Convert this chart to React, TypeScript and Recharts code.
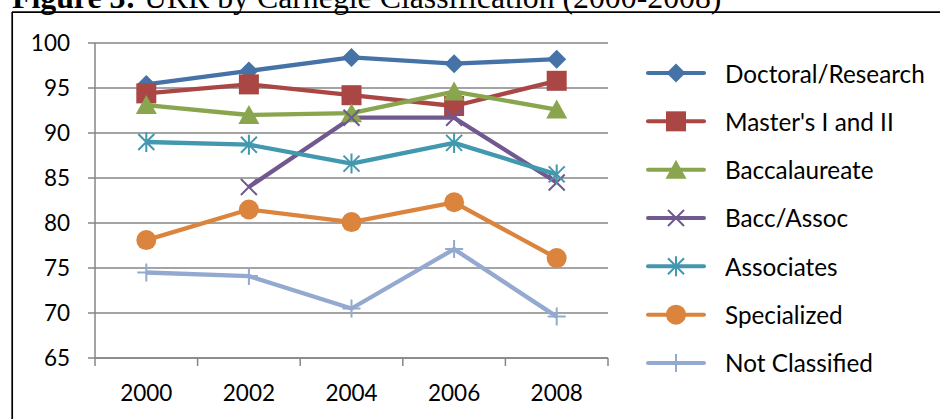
import React from "react";
import { LineChart, Line, XAxis, YAxis, CartesianGrid, Legend } from "recharts";

const years = ["2000", "2002", "2004", "2006", "2008"];
const doctoral = [95.4, 96.9, 98.4, 97.7, 98.2];
const masters = [94.4, 95.4, 94.2, 93.0, 95.8];
const baccalaureate = [93.1, 92.0, 92.2, 94.6, 92.6];
const baccAssoc = [null, 84.0, 91.7, 91.7, 84.5];
const associates = [89.0, 88.7, 86.6, 88.9, 85.4];
const specialized = [78.1, 81.5, 80.1, 82.3, 76.1];
const notClassified = [74.5, 74.1, 70.5, 77.1, 69.6];
const yTicks = [65, 70, 75, 80, 85, 90, 95, 100];

const series = [
  { key: "doctoral", name: "Doctoral/Research", values: doctoral, color: "#4572A7", marker: "diamond" },
  { key: "masters", name: "Master's I and II", values: masters, color: "#AA4643", marker: "square" },
  { key: "bacc", name: "Baccalaureate", values: baccalaureate, color: "#89A54E", marker: "triangle" },
  { key: "baccAssoc", name: "Bacc/Assoc", values: baccAssoc, color: "#71588F", marker: "x" },
  { key: "associates", name: "Associates", values: associates, color: "#4198AF", marker: "star" },
  { key: "specialized", name: "Specialized", values: specialized, color: "#DB843D", marker: "circle" },
  { key: "notClassified", name: "Not Classified", values: notClassified, color: "#93A9CF", marker: "plus" },
];

const data = years.map((year, i) => {
  const row: Record<string, any> = { year };
  series.forEach((s) => (row[s.key] = s.values[i]));
  return row;
});

const W = 940;
const H = 419;
const MARGIN = { top: 43, right: 332, left: 0, bottom: 0 };
const Y_AXIS_W = 95;
const PLOT_W = W - MARGIN.right - Y_AXIS_W;
const HALF_BAND = PLOT_W / years.length / 2;
const GRID = "#868686";
const FONT = "Lato, sans-serif";

function Marker({ kind, cx, cy, color }: { kind: string; cx: number; cy: number; color: string }) {
  switch (kind) {
    case "diamond":
      return <path d={`M${cx},${cy - 9.5}L${cx + 9.5},${cy}L${cx},${cy + 9.5}L${cx - 9.5},${cy}Z`} fill={color} />;
    case "square":
      return <rect x={cx - 10} y={cy - 10} width={20} height={20} fill={color} />;
    case "triangle":
      return <path d={`M${cx},${cy - 10}L${cx + 10.5},${cy + 9}L${cx - 10.5},${cy + 9}Z`} fill={color} />;
    case "x":
      return (
        <path d={`M${cx - 8},${cy - 8}L${cx + 8},${cy + 8}M${cx + 8},${cy - 8}L${cx - 8},${cy + 8}`} stroke={color} strokeWidth={2} />
      );
    case "star":
      return (
        <path
          d={`M${cx - 8},${cy - 8}L${cx + 8},${cy + 8}M${cx + 8},${cy - 8}L${cx - 8},${cy + 8}M${cx},${cy - 10}L${cx},${cy + 10}`}
          stroke={color}
          strokeWidth={2}
        />
      );
    case "circle":
      return <circle cx={cx} cy={cy} r={10} fill={color} />;
    case "plus":
      return <path d={`M${cx - 9},${cy}L${cx + 9},${cy}M${cx},${cy - 9}L${cx},${cy + 9}`} stroke={color} strokeWidth={2} />;
    default:
      return null;
  }
}

function XTick(props: any) {
  const { x, y, payload, index } = props;
  const last = index === years.length - 1;
  return (
    <g>
      <line x1={x - HALF_BAND} x2={x - HALF_BAND} y1={y} y2={y + 8} stroke={GRID} strokeWidth={1.5} />
      {last && <line x1={x + HALF_BAND} x2={x + HALF_BAND} y1={y} y2={y + 8} stroke={GRID} strokeWidth={1.5} />}
      <text x={x} y={y + 27} dy="0.71em" textAnchor="middle" fill="#000" fontSize={22.5} fontFamily={FONT}>
        {payload.value}
      </text>
    </g>
  );
}

function LegendBox() {
  return (
    <svg width={300} height={340}>
      {series.map((s, i) => {
        const cy = 20 + i * 48.33;
        return (
          <g key={s.key}>
            <line x1={8} x2={64} y1={cy} y2={cy} stroke={s.color} strokeWidth={4} strokeLinecap="round" />
            <Marker kind={s.marker} cx={36} cy={cy} color={s.color} />
            <text x={85} y={cy} dominantBaseline="central" fill="#000" fontSize={24.3} fontFamily={FONT}>
              {s.name}
            </text>
          </g>
        );
      })}
    </svg>
  );
}

export default function App() {
  return (
    <div style={{ position: "absolute", left: 0, top: 0, width: W, height: H, background: "#fff", overflow: "hidden" }}>
      <LineChart width={W} height={H} data={data} margin={MARGIN}>
        <CartesianGrid vertical={false} stroke={GRID} strokeWidth={1.5} />
        <XAxis
          dataKey="year"
          height={61}
          padding={{ left: HALF_BAND, right: HALF_BAND }}
          axisLine={{ stroke: GRID, strokeWidth: 1.5 }}
          tickLine={false}
          tickSize={0}
          tickMargin={0}
          tick={<XTick />}
          interval={0}
        />
        <YAxis
          width={Y_AXIS_W}
          domain={[65, 100]}
          ticks={yTicks}
          interval={0}
          axisLine={{ stroke: GRID, strokeWidth: 1.5 }}
          tickLine={{ stroke: GRID, strokeWidth: 1.5 }}
          tickSize={7}
          tickMargin={18}
          tick={{ fill: "#000", fontSize: 22.5, fontFamily: FONT }}
        />
        <Legend
          layout="vertical"
          align="center"
          verticalAlign="middle"
          wrapperStyle={{ left: 640, top: 53.3, width: 300, height: 340 }}
          content={() => <LegendBox />}
        />
        {series.map((s) => (
          <Line
            key={s.key}
            dataKey={s.key}
            name={s.name}
            type="linear"
            stroke={s.color}
            strokeWidth={4.3}
            strokeLinejoin="round"
            isAnimationActive={false}
            dot={(p: any) =>
              p.value == null || p.cy == null ? (
                <g key={`${s.key}-${p.index}`} />
              ) : (
                <g key={`${s.key}-${p.index}`}>
                  <Marker kind={s.marker} cx={p.cx} cy={p.cy} color={s.color} />
                </g>
              )
            }
            activeDot={false}
          />
        ))}
      </LineChart>
      <svg width={W} height={H} style={{ position: "absolute", left: 0, top: 0, pointerEvents: "none" }}>
        <text x={12} y={7.5} fontFamily="'Liberation Serif', 'Times New Roman', serif" fontSize={31.8} fill="#000">
          <tspan fontWeight="bold">Figure 3:</tspan>
          <tspan> URR by Carnegie Classification (2000-2008)</tspan>
        </text>
        <line x1={12} x2={W} y1={12.2} y2={12.2} stroke="#000" strokeWidth={1.7} />
        <line x1={12.2} x2={12.2} y1={12} y2={H} stroke="#000" strokeWidth={1.7} />
      </svg>
    </div>
  );
}
